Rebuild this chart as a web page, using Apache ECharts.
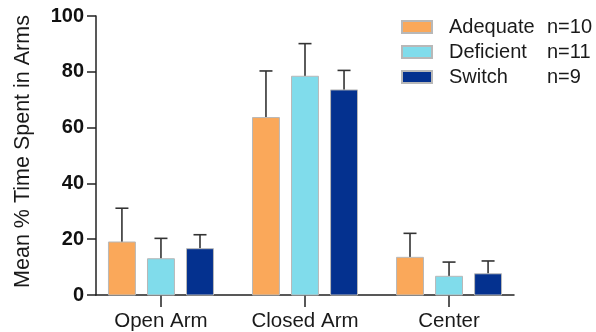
<!DOCTYPE html>
<html><head><meta charset="utf-8">
<script src="https://cdn.jsdelivr.net/npm/echarts@6/dist/echarts.min.js"></script>
<style>html,body{margin:0;padding:0;background:#fff}#c{width:596px;height:332px}</style>
</head><body><div id="c"></div>
<script>
const categories = ['Open Arm', 'Closed Arm', 'Center'];
const groups = ['Adequate', 'Deficient', 'Switch'];
const groupN = ['n=10', 'n=11', 'n=9'];
const adequateMean = [19.0, 63.6, 13.5];
const adequateErr = [12.1, 16.7, 8.6];
const deficientMean = [13.0, 78.4, 6.7];
const deficientErr = [7.3, 11.7, 5.1];
const switchMean = [16.6, 73.5, 7.6];
const switchErr = [5.0, 7.0, 4.6];
const yTicks = [0, 20, 40, 60, 80, 100];

const colors = ['#FAA85A', '#80DCEB', '#04318F'];
const offsets = [-0.271, 0, 0.271];
const means = [adequateMean, deficientMean, switchMean];
const errs = [adequateErr, deficientErr, switchErr];
const FONT = '"Liberation Sans", Arial, Helvetica, sans-serif';

function makeRender(offset, color) {
  return function (params, api) {
    const x = api.value(0) + offset;
    const m = api.value(1), e = api.value(2);
    const hw = 0.0935;
    const p0 = api.coord([x - hw, m]);
    const p1 = api.coord([x + hw, 0]);
    const top = api.coord([x, m + e]);
    const base = api.coord([x, m]);
    const capHalf = 6.5;
    return {
      type: 'group', children: [
        { type: 'line', shape: { x1: base[0], y1: base[1], x2: top[0], y2: top[1] }, style: { stroke: '#333', lineWidth: 1.6 } },
        { type: 'line', shape: { x1: top[0] - capHalf, y1: top[1], x2: top[0] + capHalf, y2: top[1] }, style: { stroke: '#333', lineWidth: 1.6 } },
        { type: 'rect', shape: { x: p0[0], y: p0[1], width: p1[0] - p0[0], height: p1[1] - p0[1] }, style: { fill: color, stroke: '#b8b8b8', lineWidth: 1 } }
      ]
    };
  };
}

const series = groups.map((g, i) => ({
  name: g,
  type: 'custom',
  renderItem: makeRender(offsets[i], colors[i]),
  itemStyle: { color: colors[i], borderColor: '#b8b8b8', borderWidth: 1 },
  encode: { x: 0, y: 1 },
  data: categories.map((c, k) => [k, means[i][k], errs[i][k]]),
  clip: false,
  z: 3
}));

const chart = echarts.init(document.getElementById('c'), null, { renderer: 'canvas' });
chart.setOption({
  animation: false,
  backgroundColor: '#fff',
  textStyle: { fontFamily: FONT },
  grid: { left: 96, right: 82, top: 16, bottom: 37, containLabel: false, outerBoundsMode: 'none' },
  legend: {
    data: groups,
    orient: 'vertical',
    left: 396,
    top: 12,
    itemWidth: 30,
    itemHeight: 12,
    itemGap: 5,
    icon: 'rect',
    selectedMode: false,
    formatter: function (name) {
      const i = groups.indexOf(name);
      return '{a|' + name + '}{b|' + groupN[i] + '}';
    },
    textStyle: {
      fontFamily: FONT,
      fontSize: 20,
      color: '#1a1a1a',
      lineHeight: 20,
      rich: {
        a: { fontFamily: FONT, fontSize: 20, color: '#1a1a1a', width: 98, padding: [0, 0, 0, 12] },
        b: { fontFamily: FONT, fontSize: 20, color: '#1a1a1a' }
      }
    }
  },
  xAxis: {
    type: 'value',
    position: 'bottom',
    min: -0.451,
    max: 2.451,
    splitLine: { show: false },
    axisLine: { show: true, onZero: false, lineStyle: { color: '#222', width: 1.5 } },
    axisTick: { show: true, inside: false, customValues: [0, 1, 2], length: 12, lineStyle: { color: '#222', width: 1.5 } },
    axisLabel: {
      customValues: [0, 1, 2],
      inside: false,
      formatter: function (v) { return categories[Math.round(v)]; },
      fontFamily: FONT, fontSize: 20.5, color: '#1a1a1a', margin: 16
    }
  },
  yAxis: {
    type: 'value',
    position: 'left',
    min: yTicks[0],
    max: yTicks[yTicks.length - 1],
    interval: 20,
    name: 'Mean % Time Spent in Arms',
    nameLocation: 'middle',
    nameGap: 62,
    nameTextStyle: { fontFamily: FONT, fontSize: 21.5, color: '#1a1a1a', padding: [0, 0, 0, 8] },
    splitLine: { show: false },
    axisLine: { show: true, onZero: false, lineStyle: { color: '#222', width: 1.5 } },
    axisTick: { show: true, inside: false, length: 9, lineStyle: { color: '#222', width: 1.5 } },
    axisLabel: { inside: false, fontFamily: FONT, fontSize: 20, fontWeight: 'bold', color: '#111', margin: 12 }
  },
  series: series
});
</script>
</body></html>
